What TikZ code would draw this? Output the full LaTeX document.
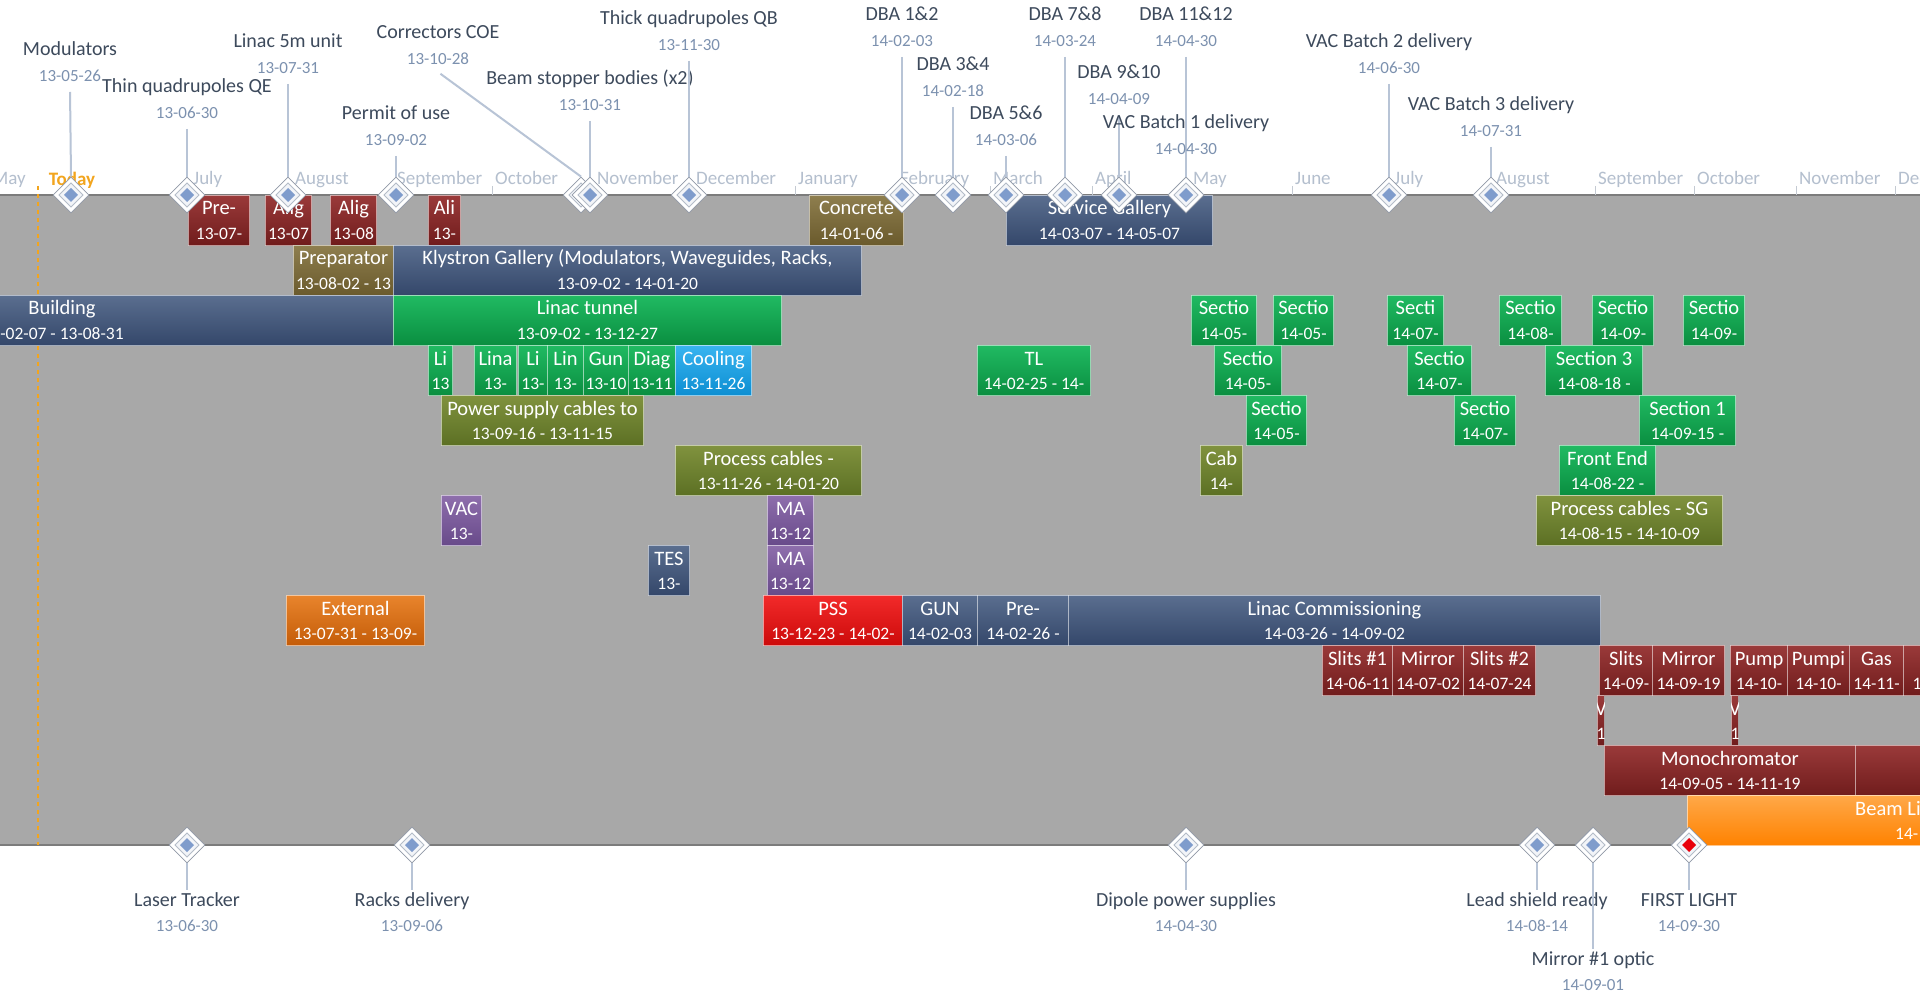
\documentclass[tikz,border=0pt]{standalone}
\usepackage{fontspec}
\setmainfont{Carlito}
\usetikzlibrary{shapes.geometric}

\definecolor{chartgray}{HTML}{A8A8A8}
\definecolor{axisgray}{HTML}{7C7C7C}
\definecolor{msblue}{HTML}{7F9CCC}
\definecolor{msred}{HTML}{E8000B}
\definecolor{msrim}{HTML}{B4BCC8}
\definecolor{msfill}{HTML}{F2F4F8}
\definecolor{msedge}{HTML}{9098A6}
\definecolor{msnametxt}{HTML}{3D4A5C}
\definecolor{msdatetxt}{HTML}{7C91AF}
\definecolor{mslinec}{HTML}{B8C4D6}
\definecolor{monthtxt}{HTML}{B4BFCE}
\definecolor{monthtick}{HTML}{C4CAD2}
\definecolor{todayorange}{HTML}{F2A51E}
\definecolor{tred1}{HTML}{9A3A3A}\definecolor{tred2}{HTML}{701C1C}
\definecolor{tkha1}{HTML}{8E7E4E}\definecolor{tkha2}{HTML}{6A5A2C}
\definecolor{tnav1}{HTML}{5A6E8F}\definecolor{tnav2}{HTML}{34476A}
\definecolor{tgrn1}{HTML}{20BA62}\definecolor{tgrn2}{HTML}{0A8E40}
\definecolor{toli1}{HTML}{80923E}\definecolor{toli2}{HTML}{5C7024}
\definecolor{tpur1}{HTML}{8E6EAC}\definecolor{tpur2}{HTML}{684A8A}
\definecolor{tcyn1}{HTML}{38B4F0}\definecolor{tcyn2}{HTML}{0C8ED2}
\definecolor{tora1}{HTML}{E8842C}\definecolor{tora2}{HTML}{C45C08}
\definecolor{tpss1}{HTML}{F22A2A}\definecolor{tpss2}{HTML}{CC0A0A}
\definecolor{tbm1}{HTML}{FFA848}\definecolor{tbm2}{HTML}{FF8200}

% task bar: name, x1, row top, x2, style, title, dates
\newcommand{\task}[7]{%
  \pgfmathsetmacro{\taskw}{#4-#2}%
  \node[taskbar,#5,minimum width=\taskw pt,anchor=north west] (#1) at (#2,#3) {};
  \node[tasktitle] (#1-t) at ([yshift=-15pt]#1.north) {#6};
  \node[taskdate] (#1-d) at ([yshift=-38pt]#1.north) {#7};
}

\begin{document}
\begin{tikzpicture}[x=1pt, y=-1pt,
  taskbar/.style={rectangle, inner sep=0pt, minimum height=50pt, draw=white, draw opacity=0.55, line width=1pt},
  taskred/.style={top color=tred1, bottom color=tred2},
  taskkhaki/.style={top color=tkha1, bottom color=tkha2},
  tasknavy/.style={top color=tnav1, bottom color=tnav2},
  taskgreen/.style={top color=tgrn1, bottom color=tgrn2},
  taskolive/.style={top color=toli1, bottom color=toli2},
  taskpurple/.style={top color=tpur1, bottom color=tpur2},
  taskcyan/.style={top color=tcyn1, bottom color=tcyn2},
  taskorange/.style={top color=tora1, bottom color=tora2},
  taskpss/.style={top color=tpss1, bottom color=tpss2},
  taskbeam/.style={top color=tbm1, bottom color=tbm2},
  tasktitle/.style={text=white, inner sep=0pt, text height=14pt, text depth=4pt, font=\fontsize{20.5}{24}\selectfont},
  taskdate/.style={text=white, inner sep=0pt, text height=12.5pt, text depth=0pt, font=\fontsize{17.5}{21}\selectfont},
  milestone/.style={shape=diamond, minimum size=36pt, inner sep=0pt, fill=white, draw=msedge, line width=0.8pt,
    path picture={
      \draw[msrim, fill=msfill, line width=0.8pt] (path picture bounding box.center) ++(0,-12) -- ++(12,12) -- ++(-12,12) -- ++(-12,-12) -- cycle;
      \fill[#1] (path picture bounding box.center) ++(0,-7) -- ++(7,7) -- ++(-7,7) -- ++(-7,-7) -- cycle;}},
  milestone/.default=msblue,
  msname/.style={text=msnametxt, inner sep=0pt, text height=14pt, text depth=4pt, font=\fontsize{20}{24}\selectfont},
  msdate/.style={text=msdatetxt, inner sep=0pt, text height=11pt, text depth=0pt, font=\fontsize{17}{20}\selectfont},
  msline/.style={mslinec, line width=2pt, shorten <=3pt},
  month/.style={text=monthtxt, anchor=west, inner sep=0pt, text height=13pt, text depth=4pt, font=\fontsize{19}{22}\selectfont}]
\useasboundingbox (0,0) rectangle (1920,992);
\clip (0,0) rectangle (1920,992);
\fill[white] (0,0) rectangle (1920,992);
\fill[chartgray] (0,195) rectangle (1920,845);
\draw[axisgray, line width=2.5pt] (0,195) -- (1920,195);
\draw[axisgray, line width=2.5pt] (0,845) -- (1920,845);

% months
\foreach \x/\m in {-11/May, 190/July, 292/August, 394/September, 492/October, 594/November, 693/December,
  795/January, 897/February, 990/March, 1092/April, 1190/May, 1292/June, 1391/July, 1493/August,
  1595/September, 1694/October, 1796/November, 1895/December} {
  \draw[monthtick, line width=1pt] (\x,186) -- (\x,195);
  \node[month] (m\x) at (\x+3,180) {\m};
}

% today
\draw[todayorange, line width=2pt, dash pattern=on 4pt off 4pt] (38,186) -- (38,845);
\node[text=todayorange, font=\bfseries\fontsize{19}{22}\selectfont, inner sep=0pt] (today) at (72,180) {Today};

% row 1
\task{pre}{188}{195}{249}{taskred}{Pre-}{13-07-}
\task{aliga}{265}{195}{311}{taskred}{Alig}{13-07}
\task{aligb}{330}{195}{376}{taskred}{Alig}{13-08}
\task{aligc}{428}{195}{460}{taskred}{Ali}{13-}
\task{concrete}{809}{195}{903}{taskkhaki}{Concrete}{14-01-06 -}
\task{service}{1006}{195}{1212}{tasknavy}{Service Gallery}{14-03-07 - 14-05-07}
% row 2
\task{prep}{293}{245}{393}{taskkhaki}{Preparator}{13-08-02 - 13}
\task{klystron}{393}{245}{861}{tasknavy}{Klystron Gallery (Modulators, Waveguides, Racks,}{13-09-02 - 14-01-20}
% row 3
\task{building}{-270}{295}{393}{tasknavy}{Building}{-02-07 - 13-08-31}
\task{tunnel}{393}{295}{781}{taskgreen}{Linac tunnel}{13-09-02 - 13-12-27}
\task{seca}{1191}{295}{1256}{taskgreen}{Sectio}{14-05-}
\task{secb}{1273}{295}{1333}{taskgreen}{Sectio}{14-05-}
\task{secc}{1387}{295}{1443}{taskgreen}{Secti}{14-07-}
\task{secd}{1499}{295}{1561}{taskgreen}{Sectio}{14-08-}
\task{sece}{1592}{295}{1653}{taskgreen}{Sectio}{14-09-}
\task{secf}{1683}{295}{1744}{taskgreen}{Sectio}{14-09-}
% row 4
\task{lia}{428}{345}{452}{taskgreen}{Li}{13}
\task{lina}{474}{345}{516}{taskgreen}{Lina}{13-}
\task{lib}{518}{345}{547}{taskgreen}{Li}{13-}
\task{lin}{547}{345}{583}{taskgreen}{Lin}{13-}
\task{gun}{583}{345}{628}{taskgreen}{Gun}{13-10}
\task{diag}{628}{345}{675}{taskgreen}{Diag}{13-11}
\task{cooling}{675}{345}{751}{taskcyan}{Cooling}{13-11-26}
\task{tl}{977}{345}{1090}{taskgreen}{TL}{14-02-25 - 14-}
\task{secg}{1214}{345}{1281}{taskgreen}{Sectio}{14-05-}
\task{sech}{1407}{345}{1471}{taskgreen}{Sectio}{14-07-}
\task{secthree}{1545}{345}{1642}{taskgreen}{Section 3}{14-08-18 -}
% row 5
\task{psc}{441}{395}{643}{taskolive}{Power supply cables to}{13-09-16 - 13-11-15}
\task{seci}{1246}{395}{1306}{taskgreen}{Sectio}{14-05-}
\task{secj}{1454}{395}{1515}{taskgreen}{Sectio}{14-07-}
\task{secone}{1639}{395}{1735}{taskgreen}{Section 1}{14-09-15 -}
% row 6
\task{pca}{675}{445}{861}{taskolive}{Process cables -}{13-11-26 - 14-01-20}
\task{cab}{1200}{445}{1242}{taskolive}{Cab}{14-}
\task{front}{1559}{445}{1655}{taskgreen}{Front End}{14-08-22 -}
% row 7
\task{vac}{441}{495}{481}{taskpurple}{VAC}{13-}
\task{maa}{767}{495}{813}{taskpurple}{MA}{13-12}
\task{pcsg}{1536}{495}{1722}{taskolive}{Process cables - SG}{14-08-15 - 14-10-09}
% row 8
\task{tes}{648}{545}{689}{tasknavy}{TES}{13-}
\task{mab}{767}{545}{813}{taskpurple}{MA}{13-12}
% row 9
\task{external}{286}{595}{424}{taskorange}{External}{13-07-31 - 13-09-}
\task{pss}{763}{595}{902}{taskpss}{PSS}{13-12-23 - 14-02-}
\task{gunc}{902}{595}{977}{tasknavy}{GUN}{14-02-03}
\task{prec}{977}{595}{1068}{tasknavy}{Pre-}{14-02-26 -}
\task{lcom}{1068}{595}{1600}{tasknavy}{Linac Commissioning}{14-03-26 - 14-09-02}
% row 10
\task{slita}{1322}{645}{1392}{taskred}{Slits \#1}{14-06-11}
\task{mira}{1392}{645}{1463}{taskred}{Mirror}{14-07-02}
\task{slitb}{1463}{645}{1535}{taskred}{Slits \#2}{14-07-24}
\task{slitc}{1599}{645}{1652}{taskred}{Slits}{14-09-}
\task{mirb}{1652}{645}{1724}{taskred}{Mirror}{14-09-19}
\task{pumpa}{1730}{645}{1787}{taskred}{Pump}{14-10-}
\task{pumpb}{1787}{645}{1849}{taskred}{Pumpi}{14-10-}
\task{gas}{1849}{645}{1903}{taskred}{Gas}{14-11-}
\task{lastr}{1903}{645}{1930}{taskred}{}{1}
% row 11
\begin{scope}
  \clip (1597,695) rectangle (1604,745);
  \task{thina}{1597}{695}{1604}{taskred}{V}{1}
\end{scope}
\begin{scope}
  \clip (1731,695) rectangle (1738,745);
  \task{thinb}{1731}{695}{1738}{taskred}{V}{1}
\end{scope}
% row 12
\task{mono}{1604}{745}{1855}{taskred}{Monochromator}{14-09-05 - 14-11-19}
\task{monob}{1855}{745}{1990}{taskred}{}{}
% row 13
\task{beam}{1687}{795}{2100}{taskbeam}{}{}
\node[tasktitle, anchor=west] (beam-tx) at (1855,810) {Beam Li};
\node[taskdate, anchor=west] (beam-dx) at (1895,833) {14-};

% milestones above
\foreach \n/\x/\lx/\ly/\t/\d in {mod/71/70/51/Modulators/13-05-26,
  qe/187/187/88/Thin quadrupoles QE/13-06-30,
  linfive/288/288/43/Linac 5m unit/13-07-31,
  perm/396/396/115/Permit of use/13-09-02,
  coe/581/438/34/Correctors COE/13-10-28,
  bsb/590/590/80/Beam stopper bodies (x2)/13-10-31,
  qb/689/689/20/Thick quadrupoles QB/13-11-30,
  dbaa/902/902/16/DBA 1\&2/14-02-03,
  dbab/953/953/66/DBA 3\&4/14-02-18,
  dbac/1006/1006/115/DBA 5\&6/14-03-06,
  dbad/1065/1065/16/DBA 7\&8/14-03-24,
  dbae/1119/1119/74/DBA 9\&10/14-04-09,
  dbaf/1186/1186/16/DBA 11\&12/14-04-30,
  vaca/1186/1186/124/VAC Batch 1 delivery/14-04-30,
  vacb/1389/1389/43/VAC Batch 2 delivery/14-06-30,
  vacc/1491/1491/106/VAC Batch 3 delivery/14-07-31} {
  \node[milestone] (\n) at (\x,195) {};
  \draw[msline] (\lx,\ly+38) -- (\n.north);
  \node[msname] (\n-t) at (\lx,\ly) {\t};
  \node[msdate] (\n-d) at (\lx,\ly+25) {\d};
}

% milestones below
\foreach \n/\x/\ly/\t/\d in {laser/187/901/Laser Tracker/13-06-30,
  racks/412/901/Racks delivery/13-09-06,
  dipole/1186/901/Dipole power supplies/14-04-30,
  lead/1537/901/Lead shield ready/14-08-14,
  mirror/1593/960/Mirror \#1 optic/14-09-01} {
  \node[milestone] (\n) at (\x,845) {};
  \node[msname] (\n-t) at (\x,\ly) {\t};
  \node[msdate] (\n-d) at (\x,\ly+25) {\d};
  \draw[msline, shorten <=0pt, shorten >=2pt] (\n.south) -- (\n-t.north);
}
\node[milestone=msred] (first) at (1689,845) {};
\node[msname] (first-t) at (1689,901) {FIRST LIGHT};
\node[msdate] (first-d) at (1689,926) {14-09-30};
\draw[msline, shorten <=0pt, shorten >=2pt] (first.south) -- (first-t.north);
\end{tikzpicture}
\end{document}
